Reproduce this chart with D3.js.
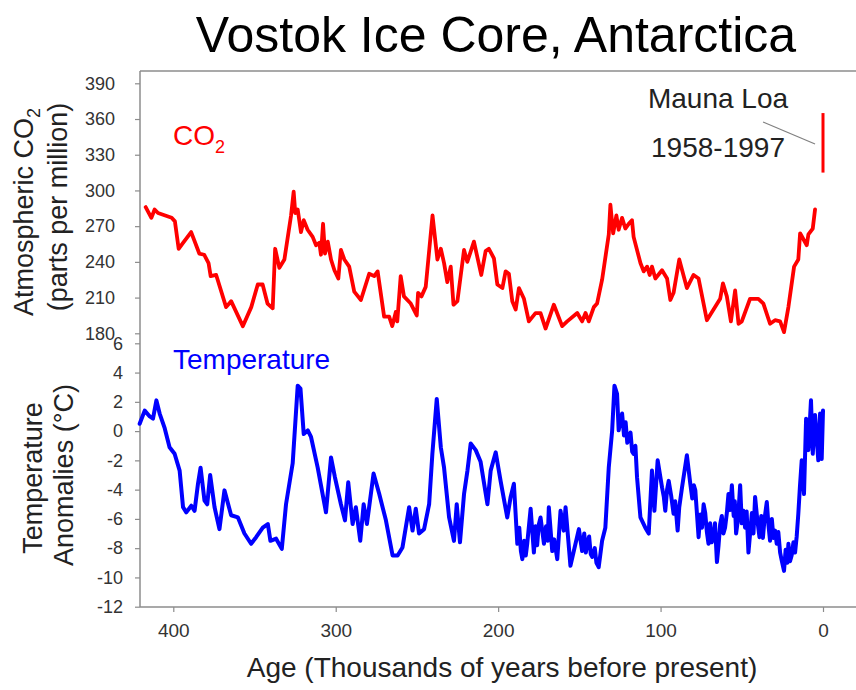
<!DOCTYPE html>
<html>
<head>
<meta charset="utf-8">
<script src="https://cdn.jsdelivr.net/npm/d3@7"></script>
<style>
  html, body { margin: 0; padding: 0; background: #fff; }
  svg { display: block; font-family: "Liberation Sans", Arial, sans-serif; }
</style>
</head>
<body>
<svg id="chart" width="856" height="690"></svg>
<script>
// Vostok ice core record: age in thousands of years before present
const co2Ages = [417,413.5,411.5,409.4,401,399,396.7,394,389,384,381,378.3,377,373.6,367.5,364.4,357.2,352,348,345,342,338.8,337.3,334.7,331.6,327.5,325.9,324.9,323.4,321.4,319.7,317.3,314.2,312.1,310.1,309.1,307.8,306.6,304.9,302.9,300.8,298.4,296.8,294.7,291.7,288.6,284.5,279.4,276.3,274.2,270.2,267.1,265.2,263,262.1,260,258,253.8,250.1,249.3,247.2,244.6,240.4,237.4,235.3,233.3,231.3,229.2,227.5,225.1,221,219,214.9,210.4,207.7,205.7,202.6,200.5,197.4,195.4,193.4,191.3,189.2,187.2,184.1,181.1,177,173.9,170.8,165.7,160.6,157.5,151.3,148.3,146.2,144.2,141.1,139.1,136,131.9,130.9,129.2,127.2,125.8,123.7,121.7,119.6,117.6,116.6,112.4,110.4,108.3,106.7,105.3,103.2,99.1,96,94,92,88.5,83.8,79.7,76.6,71.5,63.3,61.6,59.2,56.7,54.1,52,50,44.9,39.8,36.7,32.6,29.5,26.4,24,21.3,17.8,15.2,14.1,10,9,6.3,4.9];
const co2Values = [286,277,284,281,277,274,251,256,265,247,246,239,228,229,202,207,186,202,221,221,205,201,251,235,242,279,299,281,284,265,275,267,261,254,256,246,272,247,257,242,233,226,250,242,236,215,208,230,228,232,194,194,186,198,190,228,211,205,195,214,211,219,279,242,251,239,223,236,204,207,250,240,257,229,249,251,243,221,218,232,230,207,200,218,209,190,197,197,184,204,186,190,197,190,197,190,202,205,225,263,288,264,279,267,277,268,272,275,261,239,232,236,229,236,226,233,226,208,214,242,218,229,226,191,209,222,211,190,216,188,190,209,209,205,188,191,190,181,202,236,242,264,254,263,268,284];

const tempAges = [420.7,417.6,414.5,412.5,410.4,408.4,405.3,402.3,399.2,396.1,394,392,388.9,386.9,384.8,383.2,380.8,379.1,377.3,374.6,371.6,368.5,364.4,360.2,356.2,352.1,349,344.9,341.8,340.2,336.7,333.2,330.6,326.5,323.4,321.7,319.7,317.2,315.2,311.1,306,302.9,300.5,296.8,294.3,292.3,289.6,287.6,284.9,282.8,280.8,276.7,273.2,269.1,265,261.9,258.9,254.8,252.7,250.7,248.7,245.6,242.5,240.5,237.8,235.3,233.3,230.2,227.2,225.5,223.5,221,218.9,216.9,213.8,210.8,206.6,204.6,201.5,198.5,194.4,192.3,190.3,188.2,187,186,185.1,184,183,182.1,180,178,177,176,175,173.9,171.8,170.5,169.5,168.8,166.7,165.5,163.6,161.6,159.6,158.5,155.5,150.3,148.3,147,146,145.2,144,143,142.1,140.5,139.5,138.1,136,134,131.9,129.8,128.4,126.8,125.8,123.7,122.5,121.5,120.5,119.6,118.5,117.5,116.6,115.5,114.5,112.4,109.4,107.3,105.3,103.8,101.8,99.1,98,97.1,96,95,93.5,92,91,89.5,88.5,86.8,83.8,81.7,80.5,79.5,78.6,76.6,75.5,74.5,73.5,72.5,71.5,70.5,69.5,68.5,67.4,66.5,65.3,64.3,63.3,62.3,61.3,60.3,59.2,58.2,57.2,56.1,55,54.3,53.5,52.3,51,50,49,48,47,45.9,44.8,43.8,42.8,41.8,40.5,39.1,38,37,36,34.6,33.6,32.6,31.5,30.5,29.5,28.5,27.5,26.4,25.3,24,23,22,21.3,20.3,19.3,18.2,17.2,16.2,15.2,14.2,13.1,11.7,10.4,9,7.4,6.3,4.9,2.9,1.8,0.8,0];
const tempValues = [0.5,1.4,1.0,0.85,2.1,1.2,0.2,-1.1,-1.55,-2.7,-5.2,-5.55,-5.1,-5.45,-3.6,-2.5,-4.75,-5.0,-3.0,-5.2,-6.7,-4.05,-5.75,-5.9,-7.0,-7.7,-7.25,-6.6,-6.35,-7.5,-7.35,-8.05,-5.0,-2.2,3.1,2.9,-0.2,0.05,-0.4,-2.5,-5.55,-1.8,-3.15,-5.0,-6.1,-3.5,-6.35,-5.2,-7.5,-5.0,-6.35,-2.9,-4.3,-6.1,-8.5,-8.5,-7.95,-5.2,-6.8,-5.3,-7.0,-6.7,-5.0,-1.55,2.2,-1.1,-2.5,-5.9,-7.5,-5.0,-7.6,-4.3,-2.7,-0.85,-1.3,-2.1,-5.0,-2.7,-1.45,-3.4,-5.9,-4.5,-3.6,-7.7,-6.6,-8.2,-8.75,-7.5,-8.5,-7.7,-5.3,-8.3,-6.5,-7.8,-6.4,-5.9,-7.7,-6.5,-7.5,-5.2,-8.2,-7.4,-8.75,-5.45,-6.8,-5.2,-9.2,-6.7,-8.2,-7.0,-8.3,-7.7,-7.2,-8.4,-8.6,-8.0,-9.0,-9.3,-7.5,-6.6,-2.5,0.05,3.1,2.55,0.05,1.2,-0.3,0.6,-0.8,-0.4,-0.1,-1.4,-1.55,-1.0,-3.15,-5.9,-6.6,-7.0,-2.7,-5.45,-2.0,-3.85,-4.5,-5.45,-4.0,-3.4,-4.4,-5.65,-4.8,-6.8,-5.2,-3.85,-1.65,-3.6,-4.6,-3.7,-4.05,-7.25,-5.7,-6.6,-5.0,-5.6,-6.9,-7.7,-6.3,-7.6,-7.25,-6.3,-8.95,-7.8,-6.35,-5.8,-7.0,-6.6,-5.6,-4.3,-5.4,-3.7,-5.8,-4.8,-7.0,-6.0,-3.7,-6.3,-5.45,-6.6,-5.5,-8.3,-6.9,-5.6,-7.0,-4.5,-6.0,-7.25,-5.8,-7.3,-6.0,-4.85,-6.4,-7.5,-6.0,-7.3,-6.8,-7.7,-6.9,-8.3,-8.9,-9.55,-8.1,-9.0,-7.7,-8.9,-8.5,-7.6,-8.3,-7.2,-5.65,-3.8,-2.0,-4.3,0.85,-1.3,2.1,-1.55,1.1,-2.0,1.2,-1.9,1.4];

// Mauna Loa direct measurements 1958-1997 (ppm), plotted at age 0
const maunaLoaRange = [315, 365];

const ageTicks = [400, 300, 200, 100, 0];
const co2Ticks = [180, 210, 240, 270, 300, 330, 360, 390];
const tempTicks = [-12, -10, -8, -6, -4, -2, 0, 2, 4, 6];

const svg = d3.select("#chart");
const axisColor = "#8c8c8c";
const textColor = "#222";

const plotLeft = 140, plotRight = 856, plotTop = 71, plotBottom = 607;

const x = d3.scaleLinear().domain([420.5, 0]).range([plotLeft, 823]);
const yCO2 = d3.scaleLinear().domain([180, 390]).range([333.3, 83.3]);
const yTemp = d3.scaleLinear().domain([-12, 6]).range([606.7, 343.3]);

// frame: top edge, left edge, bottom axis line
svg.append("line").attr("x1", plotLeft).attr("x2", plotRight).attr("y1", plotTop).attr("y2", plotTop)
  .attr("stroke", axisColor).attr("stroke-width", 1.5);
svg.append("line").attr("x1", plotLeft).attr("x2", plotLeft).attr("y1", plotTop).attr("y2", plotBottom)
  .attr("stroke", axisColor).attr("stroke-width", 1.5);
svg.append("line").attr("x1", plotLeft).attr("x2", plotRight).attr("y1", plotBottom).attr("y2", plotBottom)
  .attr("stroke", axisColor).attr("stroke-width", 1.5);

function styleAxis(g, fontSize) {
  g.select(".domain").remove();
  g.selectAll(".tick line").attr("stroke", axisColor).attr("stroke-width", 1.2);
  g.selectAll(".tick text").attr("fill", "#333").style("font-size", fontSize + "px")
    .style("font-family", "'Liberation Sans', Arial, sans-serif");
}

// CO2 axis
svg.append("g").attr("transform", `translate(${plotLeft},0)`)
  .call(d3.axisLeft(yCO2).tickValues(co2Ticks).tickSize(5).tickPadding(20).tickFormat(d3.format("d")))
  .call(g => styleAxis(g, 18));

// temperature axis
svg.append("g").attr("transform", `translate(${plotLeft},0)`)
  .call(d3.axisLeft(yTemp).tickValues(tempTicks).tickSize(5).tickPadding(12).tickFormat(d => d))
  .call(g => styleAxis(g, 18));

// age axis
svg.append("g").attr("transform", `translate(0,${plotBottom})`)
  .call(d3.axisBottom(x).tickValues(ageTicks).tickSize(5).tickPadding(12).tickFormat(d3.format("d")))
  .call(g => styleAxis(g, 19));

// CO2 series
const co2Data = co2Ages.map((a, i) => [a, co2Values[i]]);
svg.append("path").datum(co2Data)
  .attr("fill", "none").attr("stroke", "#ff0000").attr("stroke-width", 3.8)
  .attr("stroke-linejoin", "round").attr("stroke-linecap", "round")
  .attr("d", d3.line().x(d => x(d[0])).y(d => yCO2(d[1])));

// temperature series
const tempData = tempAges.map((a, i) => [a, tempValues[i]]);
svg.append("path").datum(tempData)
  .attr("fill", "none").attr("stroke", "#0000ff").attr("stroke-width", 4)
  .attr("stroke-linejoin", "round").attr("stroke-linecap", "round")
  .attr("d", d3.line().x(d => x(d[0])).y(d => yTemp(d[1])));

// Mauna Loa bar and its pointer
svg.append("line")
  .attr("x1", x(0)).attr("x2", x(0))
  .attr("y1", yCO2(maunaLoaRange[0])).attr("y2", yCO2(maunaLoaRange[1]))
  .attr("stroke", "#ff0000").attr("stroke-width", 3);
svg.append("line")
  .attr("x1", x(36.9)).attr("y1", yCO2(357.5))
  .attr("x2", x(4.9)).attr("y2", yCO2(339))
  .attr("stroke", "#808080").attr("stroke-width", 1.2);
svg.append("text").attr("x", 718).attr("y", 108).attr("text-anchor", "middle")
  .attr("fill", textColor).style("font-size", "28px").text("Mauna Loa");
svg.append("text").attr("x", 718).attr("y", 157).attr("text-anchor", "middle")
  .attr("fill", textColor).style("font-size", "28px").text("1958-1997");

// series labels
const co2Label = svg.append("text").attr("x", 173).attr("y", 145)
  .attr("fill", "#ff0000").style("font-size", "28px");
co2Label.append("tspan").text("CO");
co2Label.append("tspan").attr("dy", 8).style("font-size", "18px").text("2");

svg.append("text").attr("x", 173).attr("y", 369)
  .attr("fill", "#0000ff").style("font-size", "28px").text("Temperature");

// title
svg.append("text").attr("x", 496).attr("y", 52).attr("text-anchor", "middle")
  .attr("fill", "#000").style("font-size", "50px").text("Vostok Ice Core, Antarctica");

// axis titles
svg.append("text").attr("x", 502).attr("y", 677).attr("text-anchor", "middle")
  .attr("fill", textColor).style("font-size", "28px").text("Age (Thousands of years before present)");

const co2Title = svg.append("text").attr("transform", "translate(33,212) rotate(-90)")
  .attr("text-anchor", "middle").attr("fill", textColor).style("font-size", "27px");
co2Title.append("tspan").text("Atmospheric CO");
co2Title.append("tspan").attr("dy", 7).style("font-size", "18px").text("2");

svg.append("text").attr("transform", "translate(67,207) rotate(-90)")
  .attr("text-anchor", "middle").attr("fill", textColor).style("font-size", "27px")
  .text("(parts per million)");

svg.append("text").attr("transform", "translate(42,478) rotate(-90)")
  .attr("text-anchor", "middle").attr("fill", textColor).style("font-size", "27px")
  .text("Temperature");
svg.append("text").attr("transform", "translate(73,475) rotate(-90)")
  .attr("text-anchor", "middle").attr("fill", textColor).style("font-size", "27px")
  .text("Anomalies (°C)");
</script>
</body>
</html>
